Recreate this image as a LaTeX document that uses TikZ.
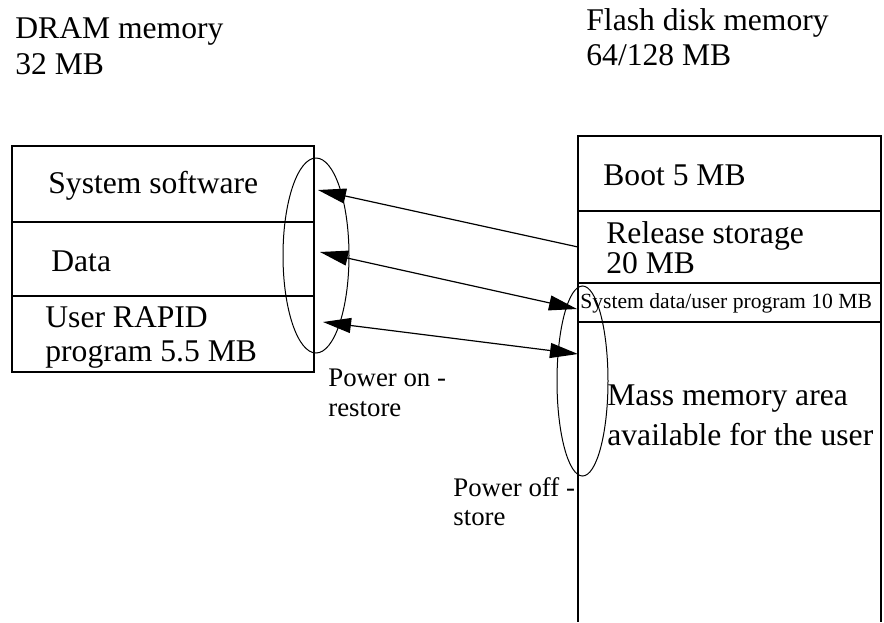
\documentclass[tikz,border=0pt]{standalone}
\usepackage{fontspec}
\setmainfont{Liberation Serif}
\usetikzlibrary{arrows.meta}

\begin{document}
\begin{tikzpicture}[x=0.5pt,y=-0.5pt,
  part/.style={draw,line width=1pt,rectangle,inner sep=0pt,outer sep=0pt,anchor=north west},
  big/.style={anchor=base west,inner sep=0pt,align=left,font=\fontsize{15.8pt}{#1}\selectfont},
  big/.default=18pt,
  mid/.style={anchor=base west,inner sep=0pt,align=left,font=\fontsize{13.4pt}{#1}\selectfont},
  mid/.default=15pt,
  small/.style={anchor=base west,inner sep=0pt,font=\fontsize{10.8pt}{12pt}\selectfont},
  ring/.style={line width=0.5pt},
  wire/.style={line width=0.6pt}]
\def\al{14pt}
\def\aw{7.5pt}
\useasboundingbox (0,0) rectangle (884,622);
% DRAM memory
\node[part,minimum width=151pt,minimum height=38pt] (sw)  at (12,146) {};
\node[part,minimum width=151pt,minimum height=37pt] (dat) at (sw.south west) {};
\node[part,minimum width=151pt,minimum height=38pt] (usr) at (dat.south west) {};
% Flash disk memory
\node[part,minimum width=151.5pt,minimum height=37.5pt] (boot) at (578,136) {};
\node[part,minimum width=151.5pt,minimum height=36pt] (rel)  at (boot.south west) {};
\node[part,minimum width=151.5pt,minimum height=19.5pt] (sysd) at (rel.south west) {};
\draw[line width=1pt] (sysd.south west) -- +(0,300);
\draw[line width=1pt] (sysd.south east) -- +(0,300);
% texts (base = last line)
\node[big=18pt] (dramtxt) at (15,74) {DRAM memory\\32 MB};
\node[big=17.5pt] (flashtxt) at (586,65) {Flash disk memory\\64/128 MB};
\node[big] (swtxt) at (48,193) {System software};
\node[big] (dattxt) at (51,271) {Data};
\node[big=17pt] (usrtxt) at (45,361) {User RAPID\\program 5.5 MB};
\node[big] (boottxt) at (603,185) {Boot 5 MB};
\node[big=15pt] (reltxt) at (606,273) {Release storage\\20 MB};
\node[small] (sysdtxt) at (580,308) {System data/user program 10 MB};
\node[big=20pt] (masstxt) at (607,445) {Mass memory area\\available for the user};
\node[mid=15pt] (ontxt) at (328,416) {Power on -\\restore};
\node[mid=14.5pt] (offtxt) at (453,525) {Power off -\\store};
% ovals
\draw[ring] (316,255.5) ellipse [x radius=33, y radius=97.5];
\draw[ring] (582.5,381) ellipse [x radius=25.5, y radius=95];
% arrows
\coordinate (a1) at (318,190);
\coordinate (a2l) at (320,252);
\coordinate (a2r) at (577,309);
\coordinate (a3l) at (323,322);
\coordinate (a3r) at (578,354);
\draw[wire,-{Triangle[length=\al, width=\aw]}] (rel.west) -- (a1);
\draw[wire,{Triangle[length=\al, width=\aw]}-{Triangle[length=\al, width=\aw]}] (a2l) -- (a2r);
\draw[wire,{Triangle[length=\al, width=\aw]}-{Triangle[length=\al, width=\aw]}] (a3l) -- (a3r);
\end{tikzpicture}
\end{document}
